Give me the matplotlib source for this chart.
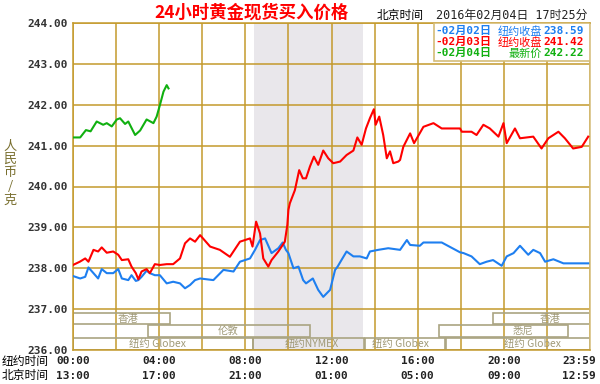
import matplotlib
matplotlib.use("Agg")
import matplotlib.pyplot as plt
from matplotlib.patches import Rectangle
from matplotlib.transforms import blended_transform_factory

# minutes after 00:00 New York time
green_t = [0, 20, 36, 49, 66, 84, 94, 108, 122, 131, 145, 154, 173, 187, 205, 224, 233, 242, 252, 261, 266]
green_v = [241.20, 241.20, 241.38, 241.35, 241.59, 241.51, 241.55, 241.47, 241.64, 241.67, 241.53,
           241.59, 241.26, 241.37, 241.64, 241.55, 241.71, 241.99, 242.32, 242.48, 242.40]

red_t = [0, 19, 34, 43, 57, 70, 80, 94, 112, 126, 136, 154, 163, 175, 182, 191, 205, 214, 228, 242,
         261, 279, 298, 312, 326, 340, 354, 382, 409, 437, 465, 493, 500, 510, 521, 530, 544, 553,
         572, 590, 597, 600, 604, 618, 630, 640, 649, 660, 671, 683, 697, 711, 725, 744, 762, 781,
         792, 804, 816, 827, 838, 843, 853, 864, 874, 883, 892, 906, 911, 920, 939, 950, 976, 1004,
         1027, 1078, 1083, 1110, 1124, 1143, 1161, 1185, 1199, 1208, 1231, 1245, 1282, 1305, 1324,
         1352, 1370, 1393, 1417, 1435]
red_v = [238.08, 238.16, 238.24, 238.16, 238.45, 238.41, 238.51, 238.38, 238.41, 238.33, 238.20,
         238.22, 238.04, 237.88, 237.73, 237.92, 237.98, 237.88, 238.10, 238.08, 238.10, 238.10,
         238.24, 238.61, 238.73, 238.65, 238.81, 238.53, 238.45, 238.28, 238.65, 238.73, 238.53,
         239.14, 238.85, 238.24, 238.04, 238.20, 238.41, 238.65, 239.06, 239.43, 239.59, 239.91,
         240.40, 240.20, 240.20, 240.49, 240.73, 240.53, 240.88, 240.69, 240.57, 240.61, 240.77,
         240.88, 241.20, 241.02, 241.42, 241.67, 241.89, 241.51, 241.71, 241.26, 240.69, 240.86,
         240.57, 240.61, 240.65, 240.97, 241.30, 241.06, 241.46, 241.55, 241.42, 241.42, 241.34,
         241.34, 241.26, 241.51, 241.42, 241.22, 241.55, 241.06, 241.42, 241.18, 241.22, 240.93,
         241.18, 241.34, 241.18, 240.93, 240.97, 241.22]

blue_t = [0, 20, 34, 43, 57, 70, 80, 94, 112, 126, 136, 154, 163, 175, 182, 191, 205, 214, 228, 242,
          261, 279, 298, 312, 326, 340, 354, 391, 419, 447, 465, 493, 507, 521, 535, 553, 572, 584,
          593, 600, 614, 628, 641, 649, 668, 683, 697, 716, 730, 737, 745, 762, 781, 799, 818, 827,
          850, 878, 911, 930, 939, 966, 976, 1004, 1027, 1078, 1088, 1110, 1133, 1152, 1170, 1194,
          1208, 1227, 1245, 1268, 1282, 1301, 1315, 1338, 1366, 1384, 1403, 1435]
blue_v = [237.81, 237.75, 237.79, 238.02, 237.88, 237.75, 237.98, 237.88, 237.88, 237.98, 237.75,
          237.71, 237.83, 237.69, 237.71, 237.79, 237.94, 237.88, 237.83, 237.83, 237.63, 237.67,
          237.63, 237.51, 237.59, 237.71, 237.75, 237.71, 237.96, 237.92, 238.16, 238.24, 238.45,
          238.69, 238.73, 238.37, 238.49, 238.63, 238.45, 238.37, 238.00, 238.04, 237.71, 237.63,
          237.75, 237.47, 237.30, 237.47, 237.96, 238.04, 238.16, 238.41, 238.29, 238.29, 238.24,
          238.41, 238.45, 238.49, 238.45, 238.69, 238.57, 238.55, 238.63, 238.63, 238.63, 238.39,
          238.37, 238.29, 238.10, 238.16, 238.20, 238.06, 238.29, 238.37, 238.55, 238.33, 238.45,
          238.37, 238.16, 238.22, 238.12, 238.12, 238.12, 238.12]

ny_ticks = ["00:00", "04:00", "08:00", "12:00", "16:00", "20:00", "23:59"]
bj_ticks = ["13:00", "17:00", "21:00", "01:00", "05:00", "09:00", "12:59"]
tick_pos = [0, 240, 480, 720, 960, 1200, 1440]

# trading sessions: (label, start, end, row, label position)
sessions = [
    ("香港", 0, 270, 0, 153),
    ("香港", 1170, 1440, 0, 1329),
    ("伦敦", 210, 660, 1, 432),
    ("悉尼", 1020, 1380, 1, 1253),
    ("纽约 Globex", 0, 500, 2, 234),
    ("纽约NYMEX", 500, 810, 2, 666),
    ("纽约 Globex", 813, 1035, 2, 913),
    ("纽约 Globex", 1040, 1440, 2, 1281),
]
row_y = [(236.64, 236.90), (236.33, 236.62), (236.0, 236.30)]
nymex_span = (504, 808)

legend_rows = [
    ("-02月02日", "纽约收盘", "238.59", "#1e7ff0"),
    ("-02月03日", "纽约收盘", "241.42", "#ff0000"),
    ("-02月04日", "最新价", "242.22", "#10b010"),
]

grid_c = "#c49a2c"
mono = ["DejaVu Sans Mono", "Noto Sans CJK SC"]
cjk = ["Noto Sans CJK SC", "DejaVu Sans"]

fig = plt.figure(figsize=(6, 3.84), dpi=100)
ax = fig.add_axes([73 / 600, 34 / 384, 517 / 600, 327 / 384])
ax.set_xlim(0, 1440)
ax.set_ylim(236, 244)

ax.axvspan(*nymex_span, color="#e9e7eb", lw=0, zorder=0)
ax.set_xticks(range(0, 1441, 120))
ax.set_yticks(range(236, 245))
ax.grid(True, color=grid_c, lw=1.1, zorder=1)
ax.tick_params(length=0, labelbottom=False)
ax.set_yticklabels([f"{v:.2f}" for v in range(236, 245)], family=mono,
                   fontsize=8, fontweight="bold", color="#333333")
ax.tick_params(axis="y", pad=4)
for s in ax.spines.values():
    s.set_color(grid_c)
    s.set_linewidth(1.1)
ax.spines["right"].set_color("#d4bc78")

ax.plot(blue_t, blue_v, color="#1e7ff0", lw=1.5, zorder=3)
ax.plot(red_t, red_v, color="#ff0000", lw=1.5, zorder=3)
ax.plot(green_t, green_v, color="#10b010", lw=1.5, zorder=3)

for label, x0, x1, row, lx in sessions:
    y0, y1 = row_y[row]
    ax.add_patch(Rectangle((x0, y0), x1 - x0, y1 - y0, fill=False,
                           edgecolor="#aaa482", lw=1.2, zorder=2))
    ax.text(lx, (y0 + y1) / 2, label, ha="center", va="center", fontsize=7.5,
            color="#a09a78", family=cjk, zorder=2)

# legend box
ax.add_patch(Rectangle((0.698, 0.884), 0.302, 0.116, transform=ax.transAxes,
                       facecolor="white", edgecolor="#d4bc78", lw=1.2, zorder=4))
for i, (d, name, val, c) in enumerate(legend_rows):
    yy = 0.975 - i * 0.034
    ax.text(0.700, yy, d, transform=ax.transAxes, ha="left", va="center",
            fontsize=8, color=c, family=mono, fontweight="bold", zorder=5)
    ax.text(0.907, yy, name, transform=ax.transAxes, ha="right", va="center",
            fontsize=8, color=c, family=cjk, zorder=5)
    ax.text(0.988, yy, val, transform=ax.transAxes, ha="right", va="center",
            fontsize=8, color=c, family=mono, fontweight="bold", zorder=5)

# header
fig.text(252 / 600, 1 - 13 / 384, "24小时黄金现货买入价格", ha="center", va="center",
         fontsize=12.5, color="#ff0000", family=cjk, fontweight="bold")
fig.text(377 / 600, 1 - 15 / 384, "北京时间", ha="left", va="center",
         fontsize=8.5, color="black", family=cjk)
fig.text(587 / 600, 1 - 15 / 384, "2016年02月04日 17时25分", ha="right", va="center",
         fontsize=8.5, color="#222222", family=mono)

# y label
fig.text(10 / 600, 1 - 173 / 384, "人\n民\n币\n/\n克", ha="center", va="center",
         fontsize=9.5, color="#7a7030", family=cjk, linespacing=1.05)

# time axis
tr = blended_transform_factory(ax.transData, fig.transFigure)
fig.text(2 / 600, 1 - 361 / 384, "纽约时间", ha="left", va="center", fontsize=8.5, family=cjk)
fig.text(2 / 600, 1 - 376 / 384, "北京时间", ha="left", va="center", fontsize=8.5, family=cjk)
for i, (p, a, b) in enumerate(zip(tick_pos, ny_ticks, bj_ticks)):
    ha = "right" if i == len(tick_pos) - 1 else "center"
    xx = p + 16 if ha == "right" else p
    ax.text(xx, 1 - 361 / 384, a, transform=tr, ha=ha, va="center", fontsize=8,
            fontweight="bold", family=mono, color="#222222")
    ax.text(xx, 1 - 376 / 384, b, transform=tr, ha=ha, va="center", fontsize=8,
            fontweight="bold", family=mono, color="#222222")

fig.savefig("out.png", dpi=100)
